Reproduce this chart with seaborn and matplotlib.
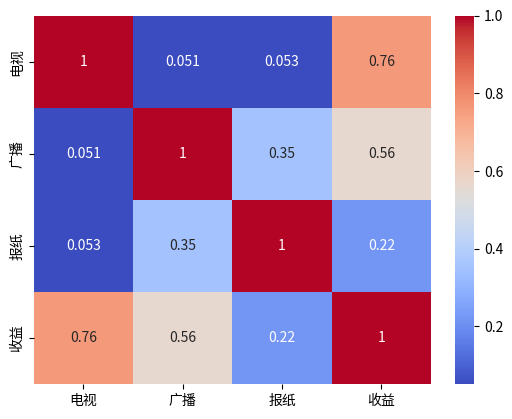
import matplotlib
matplotlib.use('Agg')
import matplotlib.pyplot as plt
import pandas as pd
import seaborn as sns

labels = ['电视', '广播', '报纸', '收益']
row_tv = [1.0, 0.051, 0.053, 0.76]
row_radio = [0.051, 1.0, 0.35, 0.56]
row_paper = [0.053, 0.35, 1.0, 0.22]
row_sales = [0.76, 0.56, 0.22, 1.0]

corr = pd.DataFrame([row_tv, row_radio, row_paper, row_sales],
                    index=labels, columns=labels)

plt.rcParams['font.family'] = ['Noto Sans CJK SC', 'DejaVu Sans']
plt.rcParams['axes.unicode_minus'] = False

fig = plt.figure(figsize=(5.12, 4.19), dpi=100)
ax = fig.add_axes([0.066, 0.0835, 0.776, 0.8785])
cax = fig.add_axes([0.889, 0.0835, 0.037, 0.8785])
sns.heatmap(corr, annot=True, cmap='coolwarm', ax=ax, cbar_ax=cax)
ax.tick_params(labelsize=10)
cax.tick_params(labelsize=10)
fig.savefig('out.png', dpi=100)
